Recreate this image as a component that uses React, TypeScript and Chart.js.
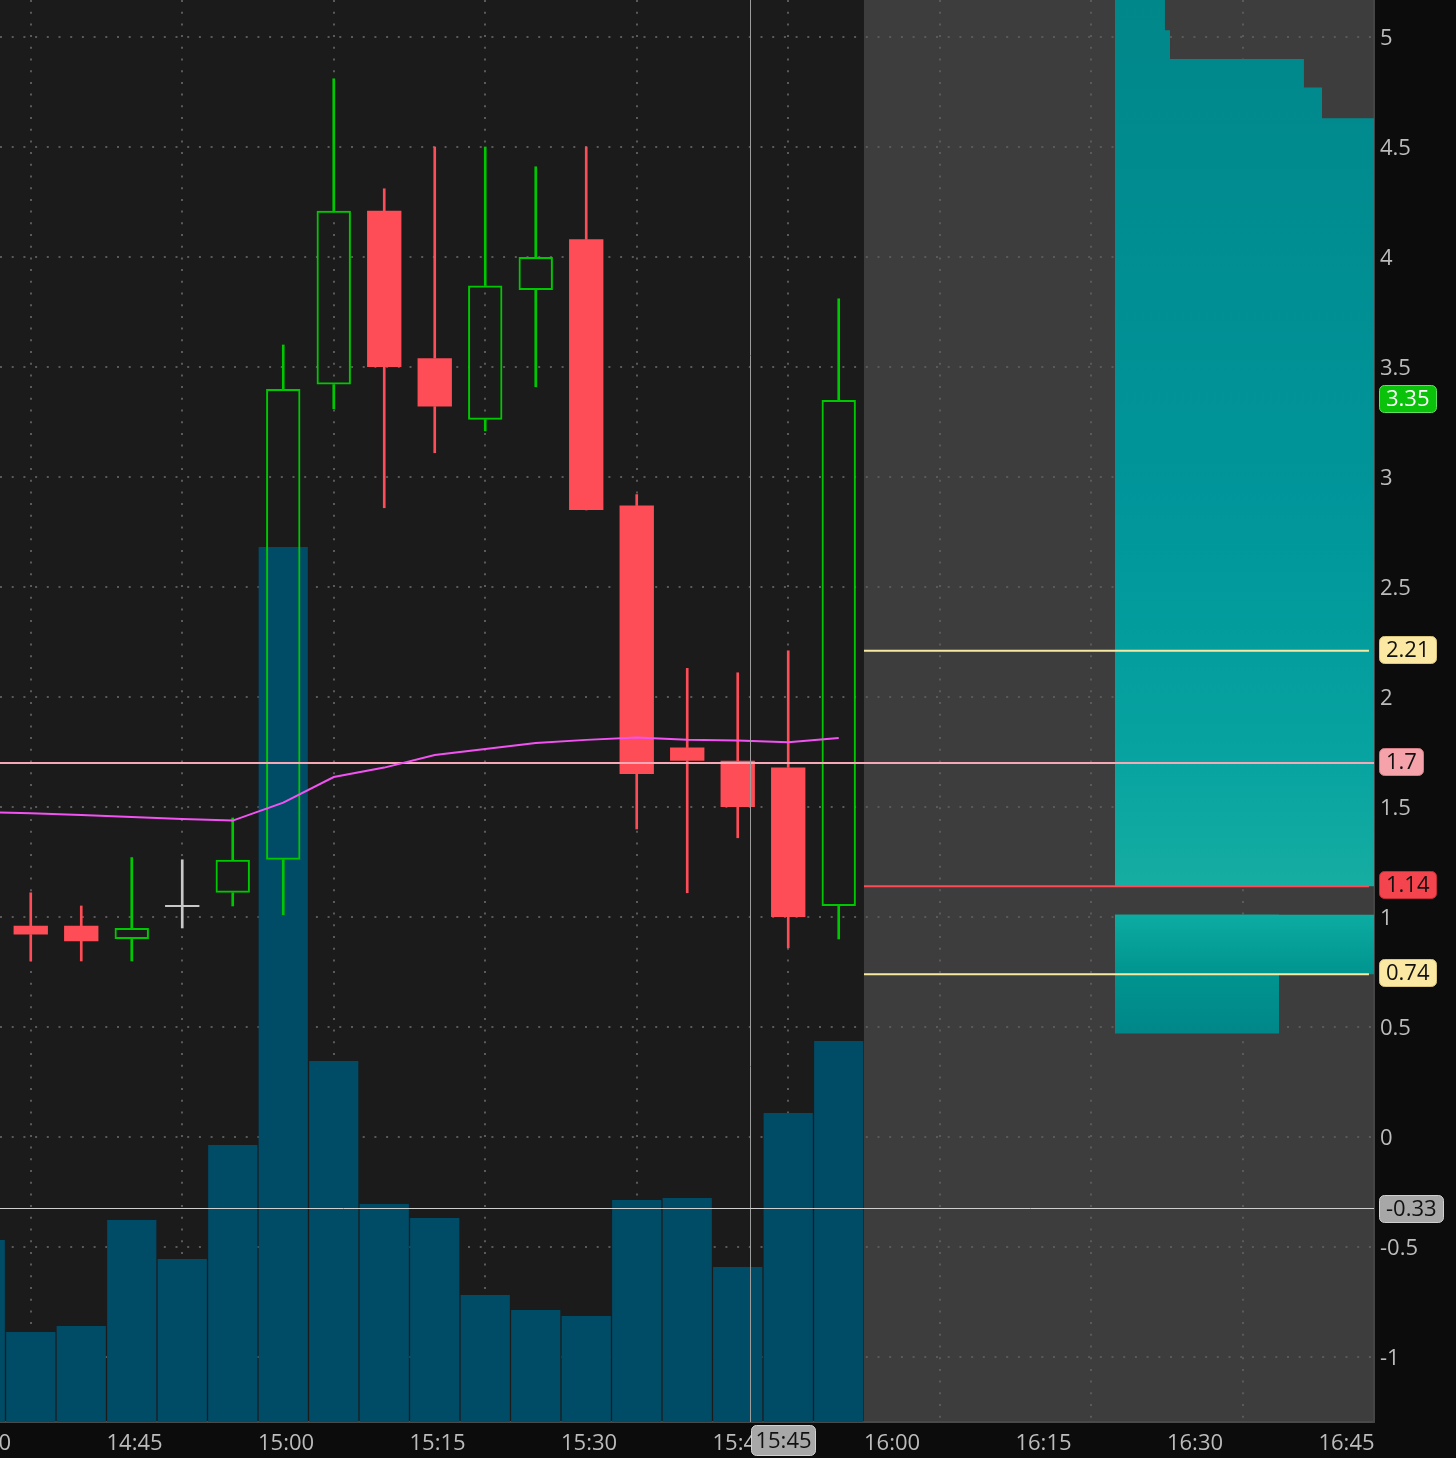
import React, { useEffect, useRef } from 'react';
import { Chart, registerables } from 'chart.js';

Chart.register(...registerables);

// ---------------- data ----------------
const times = ['14:30', '14:35', '14:40', '14:45', '14:50', '14:55', '15:00', '15:05', '15:10', '15:15', '15:20', '15:25', '15:30', '15:35', '15:40', '15:45', '15:50', '15:55'];
const opens: (number | null)[] = [null, 0.96, 0.96, 0.90, 1.05, 1.11, 1.26, 3.42, 4.21, 3.54, 3.26, 3.85, 4.08, 2.87, 1.77, 1.71, 1.68, 1.05];
const highs: (number | null)[] = [null, 1.11, 1.05, 1.27, 1.26, 1.45, 3.60, 4.81, 4.31, 4.50, 4.50, 4.41, 4.50, 2.92, 2.13, 2.11, 2.21, 3.81];
const lows: (number | null)[] = [null, 0.80, 0.80, 0.80, 0.95, 1.05, 1.01, 3.31, 2.86, 3.11, 3.21, 3.41, 2.85, 1.40, 1.11, 1.36, 0.86, 0.90];
const closes: (number | null)[] = [null, 0.92, 0.89, 0.95, 1.05, 1.26, 3.40, 4.21, 3.50, 3.32, 3.87, 4.00, 2.85, 1.65, 1.71, 1.50, 1.00, 3.35];
const volumes = [182, 90, 96, 202, 163, 277, 875, 361, 218, 204, 127, 112, 106, 222, 224, 155, 309, 381];
const vwap = [1.478, 1.471, 1.464, 1.455, 1.445, 1.438, 1.52, 1.636, 1.679, 1.736, 1.764, 1.791, 1.805, 1.816, 1.806, 1.802, 1.794, 1.814];

// future-area profile (minutes of day)
const upperProfileStarts = [984.85, 989.8, 990.3, 1003.56, 1005.35];
const upperProfileTops = [5.25, 5.03, 4.9, 4.77, 4.63];
const upperProfileBase = 1.14;
const profileEnd = 1010.6;
const lowerProfileStarts = [984.85, 984.85];
const lowerProfileEnds = [1010.6, 1001.1];
const lowerProfileTop = 1.01;
const lowerProfileBottoms = [0.74, 0.47];

// horizontal levels
const levelValues = [2.21, 1.7, 1.14, 0.74];
const levelStarts = ['16:00', '14:30', '16:00', '16:00'];
const levelEnds = ['16:50', '16:51', '16:50', '16:50'];

// right-side price bubbles
const priceLabelValues = [3.35, 2.21, 1.7, 1.14, 0.74, -0.33];
const priceLabelTexts = ['3.35', '2.21', '1.7', '1.14', '0.74', '-0.33'];

// ticks
const xTickLabels = ['14:30', '14:45', '15:00', '15:15', '15:30', '15:45', '16:00', '16:15', '16:30', '16:45'];
const yTickValues = [-1, -0.5, 0, 0.5, 1, 1.5, 2, 2.5, 3, 3.5, 4, 4.5, 5];

// crosshair
const crosshairTime = 948.7;
const crosshairPrice = -0.33;
const crosshairTimeLabel = '15:45';
const futureStart = '16:00';

// ---------------- style ----------------
const VIEW_START = 874.455;
const VIEW_END = 1010.5;
const Y_MIN = -1.2955;
const Y_MAX = 5.168;
const BAR_SPAN = 5;
const AXIS_BG = '#0c0c0c';
const CHART_BG = '#1b1b1b';
const FUTURE_BG = '#3d3d3d';
const GRID = '#5a5a5a';
const LABEL = '#bcbcbc';
const UP = '#00c800';
const DOWN = '#ff4d57';
const DOJI = '#c8c8c8';
const VOL = '#004b66';
const VWAP = '#f252f2';
const levelColors = ['#f6eaa2', '#f5a9b6', '#ff4b55', '#f6eaa2'];
const bubbleStyles = [
  { bg: '#0ac20a', border: '#5fe05f', fg: '#ffffff' },
  { bg: '#fbe8a2', border: '#d8c47c', fg: '#111111' },
  { bg: '#f5a2aa', border: '#cf7c84', fg: '#111111' },
  { bg: '#f4444e', border: '#c22c35', fg: '#111111' },
  { bg: '#fbe8a2', border: '#d8c47c', fg: '#111111' },
  { bg: '#a7a7a7', border: '#d0d0d0', fg: '#111111' },
];
const FONT = "'Open Sans', 'DejaVu Sans', sans-serif";

const toMin = (t: string) => {
  const [h, m] = t.split(':').map(Number);
  return h * 60 + m;
};
const fmtTime = (v: number) => {
  const h = Math.floor(v / 60);
  const m = Math.round(v - h * 60);
  return `${h}:${m < 10 ? '0' : ''}${m}`;
};
const zeroPadding = (s: any) => {
  s.paddingLeft = 0;
  s.paddingRight = 0;
  s.paddingTop = 0;
  s.paddingBottom = 0;
};

export default function App() {
  const ref = useRef<HTMLCanvasElement | null>(null);

  useEffect(() => {
    document.body.style.margin = '0';
    document.body.style.background = AXIS_BG;
    const canvas = ref.current;
    if (!canvas) return;
    Chart.defaults.font.family = FONT;

    const idx = times.map((_, i) => i).filter((i) => opens[i] != null);
    const cx = (i: number) => toMin(times[i]) + BAR_SPAN / 2;
    const colorOf = (i: number) =>
      (closes[i] as number) > (opens[i] as number) ? UP : (closes[i] as number) < (opens[i] as number) ? DOWN : DOJI;

    const upperWick = idx.map((i) => ({ x: cx(i), y: [Math.max(opens[i]!, closes[i]!), highs[i]!] }));
    const lowerWick = idx.map((i) => ({ x: cx(i), y: [lows[i]!, Math.min(opens[i]!, closes[i]!)] }));
    const bodies = idx.map((i) => {
      const o = opens[i]!;
      const c = closes[i]!;
      return { x: cx(i), y: o === c ? [o - 0.0045, o + 0.0045] : [o, c] };
    });
    const wickColors = idx.map(colorOf);
    const bodyBg = idx.map((i) => (colorOf(i) === UP ? 'rgba(0,0,0,0)' : colorOf(i)));
    const bodyBorder = idx.map(colorOf);
    const bodyBorderW = idx.map((i) => (colorOf(i) === UP ? 2 : 0));

    const upperPts = upperProfileStarts.map((s, i) => ({ x: s, y: upperProfileTops[i] }));
    upperPts.push({ x: profileEnd, y: upperProfileTops[upperProfileTops.length - 1] });

    const upperGrad = (c: any) => {
      const chart = c.chart;
      if (!chart.chartArea) return 'transparent';
      const y = chart.scales.y;
      const g = chart.ctx.createLinearGradient(0, y.getPixelForValue(Y_MAX), 0, y.getPixelForValue(upperProfileBase));
      g.addColorStop(0, '#00878a');
      g.addColorStop(0.55, '#00959a');
      g.addColorStop(0.85, '#06a3a0');
      g.addColorStop(1, '#16ada2');
      return g;
    };
    const lowerGrad = (c: any) => {
      const chart = c.chart;
      if (!chart.chartArea) return 'transparent';
      const y = chart.scales.y;
      const g = chart.ctx.createLinearGradient(0, y.getPixelForValue(lowerProfileTop), 0, y.getPixelForValue(Math.min(...lowerProfileBottoms)));
      g.addColorStop(0, '#0caca2');
      g.addColorStop(0.5, '#00948f');
      g.addColorStop(1, '#008789');
      return g;
    };

    const datasets: any[] = [
      {
        type: 'bar',
        label: 'volume',
        yAxisID: 'yVol',
        data: times.map((t, i) => ({ x: toMin(t) + BAR_SPAN / 2, y: volumes[i] })),
        backgroundColor: VOL,
        barPercentage: 0.975,
        categoryPercentage: 1,
        grouped: false,
        order: 100,
      },
      {
        type: 'line',
        label: 'profileUpper',
        data: upperPts,
        stepped: 'before',
        borderWidth: 0,
        borderColor: 'transparent',
        pointRadius: 0,
        fill: { value: upperProfileBase },
        backgroundColor: upperGrad,
        order: 90,
      },
      ...lowerProfileStarts.map((s, k) => ({
        type: 'line',
        label: 'profileLower' + k,
        data: [
          { x: s, y: lowerProfileTop },
          { x: lowerProfileEnds[k], y: lowerProfileTop },
        ],
        borderWidth: 0,
        borderColor: 'transparent',
        pointRadius: 0,
        fill: { value: lowerProfileBottoms[k] },
        backgroundColor: lowerGrad,
        order: 89 - k,
      })),
      {
        type: 'bar',
        label: 'upperWick',
        data: upperWick,
        backgroundColor: wickColors,
        barThickness: 2,
        grouped: false,
        order: 50,
      },
      {
        type: 'bar',
        label: 'lowerWick',
        data: lowerWick,
        backgroundColor: wickColors,
        barThickness: 2,
        grouped: false,
        order: 49,
      },
      {
        type: 'bar',
        label: 'body',
        data: bodies,
        backgroundColor: bodyBg,
        borderColor: bodyBorder,
        borderWidth: bodyBorderW,
        borderSkipped: false,
        barPercentage: 0.68,
        categoryPercentage: 1,
        grouped: false,
        order: 40,
      },
      ...levelValues.map((v, k) => ({
        type: 'line',
        label: 'level' + k,
        data: [
          { x: toMin(levelStarts[k]), y: v },
          { x: toMin(levelEnds[k]), y: v },
        ],
        borderColor: levelColors[k],
        borderWidth: 2,
        pointRadius: 0,
        fill: false,
        order: 35,
      })),
      {
        type: 'line',
        label: 'vwap',
        data: times.map((t, i) => ({ x: toMin(t) + BAR_SPAN / 2, y: vwap[i] })),
        borderColor: VWAP,
        borderWidth: 2,
        pointRadius: 0,
        tension: 0,
        fill: false,
        order: 30,
      },
    ];

    const bgPlugin = {
      id: 'bgPlugin',
      beforeDraw(chart: any) {
        const { ctx, chartArea: a, scales } = chart;
        ctx.save();
        ctx.fillStyle = AXIS_BG;
        ctx.fillRect(0, 0, chart.width, chart.height);
        ctx.fillStyle = CHART_BG;
        ctx.fillRect(a.left, a.top, a.right - a.left, a.bottom - a.top);
        const xf = scales.x.getPixelForValue(toMin(futureStart));
        ctx.fillStyle = FUTURE_BG;
        ctx.fillRect(xf, a.top, a.right - xf, a.bottom - a.top);
        ctx.restore();
      },
    };

    const bubble = (ctx: CanvasRenderingContext2D, left: number, yc: number, text: string, st: any) => {
      ctx.font = `22px ${FONT}`;
      const w = Math.round(ctx.measureText(text).width + 13);
      const h = 27;
      const top = Math.round(yc - h / 2);
      ctx.beginPath();
      (ctx as any).roundRect(left + 0.5, top + 0.5, w, h, 5);
      ctx.fillStyle = st.bg;
      ctx.fill();
      ctx.strokeStyle = st.border;
      ctx.lineWidth = 1;
      ctx.stroke();
      ctx.fillStyle = st.fg;
      ctx.textAlign = 'left';
      ctx.textBaseline = 'middle';
      ctx.fillText(text, left + 7, top + h / 2 + 1.5);
    };

    const overlay = {
      id: 'overlay',
      afterDatasetsDraw(chart: any) {
        const { ctx, chartArea: a, scales } = chart;
        ctx.save();
        ctx.beginPath();
        ctx.rect(a.left, a.top, a.right - a.left, a.bottom - a.top);
        ctx.clip();
        const px = Math.round(scales.x.getPixelForValue(crosshairTime)) + 0.5;
        ctx.strokeStyle = '#9c9c9c';
        ctx.lineWidth = 1;
        ctx.beginPath();
        ctx.moveTo(px, a.top);
        ctx.lineTo(px, a.bottom);
        ctx.stroke();
        const py = Math.round(scales.y.getPixelForValue(crosshairPrice)) - 1.5;
        ctx.strokeStyle = '#cfcfcf';
        ctx.beginPath();
        ctx.moveTo(a.left, py);
        ctx.lineTo(a.right, py);
        ctx.stroke();
        ctx.restore();
      },
      afterDraw(chart: any) {
        const { ctx, chartArea: a, scales } = chart;
        ctx.save();
        priceLabelValues.forEach((v, k) => {
          const yc = scales.y.getPixelForValue(v) - 1.5;
          bubble(ctx, a.right + 5, yc, priceLabelTexts[k], bubbleStyles[k]);
        });
        const px = Math.round(scales.x.getPixelForValue(crosshairTime)) + 1;
        ctx.font = `22px ${FONT}`;
        const w = Math.round(ctx.measureText(crosshairTimeLabel).width + 8);
        ctx.beginPath();
        (ctx as any).roundRect(px + 0.5, a.bottom + 3.5, w, 30, 5);
        ctx.fillStyle = '#a8a8a8';
        ctx.fill();
        ctx.strokeStyle = '#d2d2d2';
        ctx.lineWidth = 1;
        ctx.stroke();
        ctx.fillStyle = '#111111';
        ctx.textAlign = 'center';
        ctx.textBaseline = 'middle';
        ctx.fillText(crosshairTimeLabel, px + w / 2 + 0.5, a.bottom + 20);
        ctx.restore();
      },
    };

    const chart = new Chart(canvas, {
      type: 'bar',
      data: { datasets },
      options: {
        responsive: false,
        animation: false,
        devicePixelRatio: 1,
        layout: { padding: 0, autoPadding: false } as any,
        plugins: { legend: { display: false }, tooltip: { enabled: false } },
        scales: {
          x: {
            type: 'linear',
            min: VIEW_START,
            max: VIEW_END,
            offset: false,
            afterBuildTicks: (s: any) => {
              s.ticks = xTickLabels.map((t) => ({ value: toMin(t) }));
            },
            afterFit: (s: any) => {
              s.height = 36;
              zeroPadding(s);
            },
            ticks: {
              autoSkip: false,
              maxRotation: 0,
              minRotation: 0,
              align: 'start',
              padding: 9,
              color: LABEL,
              font: { size: 22, family: FONT },
              callback: (v: any) => fmtTime(Number(v)),
            },
            grid: { color: GRID, lineWidth: 2, drawTicks: false, tickLength: 0 },
            border: { display: true, color: '#4a4a4a', width: 2, dash: [2, 9.7] },
          } as any,
          y: {
            type: 'linear',
            position: 'right',
            min: Y_MIN,
            max: Y_MAX,
            afterBuildTicks: (s: any) => {
              s.ticks = yTickValues.map((v) => ({ value: v }));
            },
            afterFit: (s: any) => {
              s.width = 82;
              zeroPadding(s);
            },
            ticks: {
              padding: 6,
              labelOffset: 2,
              color: LABEL,
              font: { size: 22, family: FONT },
              callback: (v: any) => String(v),
            },
            grid: { color: GRID, lineWidth: 2, drawTicks: false, tickLength: 0 },
            border: { display: true, color: '#454545', width: 2, dash: [2, 9.7] },
          } as any,
          yVol: { type: 'linear', display: false, min: 0, max: 1422 },
        },
      },
      plugins: [bgPlugin, overlay],
    });

    return () => chart.destroy();
  }, []);

  return (
    <canvas ref={ref} width={1456} height={1458} style={{ display: 'block', width: 1456, height: 1458 }} />
  );
}
